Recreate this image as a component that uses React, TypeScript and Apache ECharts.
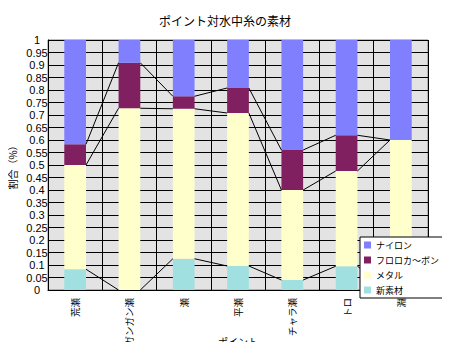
import React, { useEffect, useRef } from "react";
import * as echarts from "echarts";

const categories = ["荒瀬", "ガンガン瀬", "瀬", "平瀬", "チャラ瀬", "トロ", "淵"];
const seriesNames = ["新素材", "メタル", "フロロカ～ボン", "ナイロン"];
const newMaterial = [0.083, 0, 0.125, 0.096, 0.04, 0.095, 0];
const metal = [0.417, 0.727, 0.6, 0.612, 0.36, 0.381, 0.6];
const fluoro = [0.083, 0.182, 0.05, 0.1, 0.16, 0.143, 0];
const nylon = [0.417, 0.091, 0.225, 0.192, 0.44, 0.381, 0.4];
const colors = ["#A0E0E0", "#FFFFCC", "#802060", "#8080FF"];
const yTicks = { min: 0, max: 1, interval: 0.05 };

export default function App() {
  const ref = useRef<HTMLDivElement>(null);
  useEffect(() => {
    if (!ref.current) return;
    const chart = echarts.init(ref.current, null, { renderer: "svg" });
    const values = [newMaterial, metal, fluoro, nylon];
    const levels: number[][] = [];
    let acc = categories.map(() => 0);
    for (let k = 0; k < 3; k++) {
      acc = acc.map((a, i) => a + values[k][i]);
      levels.push(acc.slice());
    }
    const segs: number[][] = [];
    levels.forEach((lv) => {
      for (let i = 0; i < categories.length - 1; i++) {
        segs.push([i, lv[i], lv[i + 1]]);
      }
    });
    const font = "'Liberation Sans', 'Noto Sans CJK JP', sans-serif";
    const cjk = "'Noto Sans CJK JP', sans-serif";
    chart.setOption({
      animation: false,
      textStyle: { fontFamily: font, color: "#000" },
      title: {
        text: "ポイント対水中糸の素材",
        left: "center",
        top: 9,
        textStyle: { fontSize: 12, fontWeight: "normal", color: "#000", fontFamily: cjk },
      },
      legend: {
        data: ["ナイロン", "フロロカ～ボン", "メタル", "新素材"],
        orient: "vertical",
        left: 360,
        top: 237,
        icon: "rect",
        itemWidth: 7,
        itemHeight: 7,
        itemGap: 3,
        padding: [2, 5, 2, 4],
        backgroundColor: "#fff",
        borderColor: "#000",
        borderWidth: 1,
        textStyle: { fontSize: 9, lineHeight: 12, color: "#000", fontFamily: cjk },
        z: 10,
      },
      grid: {
        left: 48,
        right: 22,
        top: 40,
        bottom: 60,
        outerBoundsMode: "none",
        containLabel: false,
        show: true,
        backgroundColor: "#E3E3E3",
        borderColor: "#808080",
        borderWidth: 1,
      },
      xAxis: {
        type: "category",
        data: categories,
        name: "ポイント",
        nameLocation: "middle",
        nameGap: 46,
        nameMoveOverlap: false,
        nameTextStyle: { fontSize: 10, fontFamily: cjk },
        axisLine: { lineStyle: { color: "#000" } },
        axisTick: { show: false },
        axisLabel: { rotate: 90, fontSize: 9.5, margin: 8, color: "#000", fontFamily: cjk },
        splitLine: { show: true, lineStyle: { color: "#000", width: 1 } },
      },
      yAxis: {
        type: "value",
        min: yTicks.min,
        max: yTicks.max,
        interval: yTicks.interval,
        name: "割合（%）",
        nameLocation: "middle",
        nameGap: 31,
        nameMoveOverlap: false,
        nameTextStyle: { fontSize: 10, fontFamily: cjk },
        axisLine: { show: true, lineStyle: { color: "#000" } },
        axisTick: { show: false },
        axisLabel: {
          fontSize: 11,
          color: "#000",
          align: "center",
          margin: 11,
          formatter: (v: number) => String(+v.toFixed(2)),
        },
        splitLine: { show: true, lineStyle: { color: "#000", width: 1 } },
      },
      series: [
        ...seriesNames.map((name, k) => ({
          name,
          type: "bar",
          stack: "a",
          data: values[k],
          barCategoryGap: "60%",
          itemStyle: { color: colors[k] },
        })),
        {
          type: "custom",
          name: "lines",
          data: segs,
          z: 5,
          renderItem: (params: any, api: any) => {
            const i = api.value(0);
            const p0 = api.coord([i, api.value(1)]);
            const p1 = api.coord([i + 1, api.value(2)]);
            const hw = api.size([1, 0])[0] * 0.2;
            return {
              type: "line",
              shape: { x1: p0[0] + hw, y1: p0[1], x2: p1[0] - hw, y2: p1[1] },
              style: { stroke: "#000", lineWidth: 1 },
            };
          },
        },
      ],
    });
    return () => chart.dispose();
  }, []);
  return <div ref={ref} style={{ width: 450, height: 350, margin: -8 }} />;
}
